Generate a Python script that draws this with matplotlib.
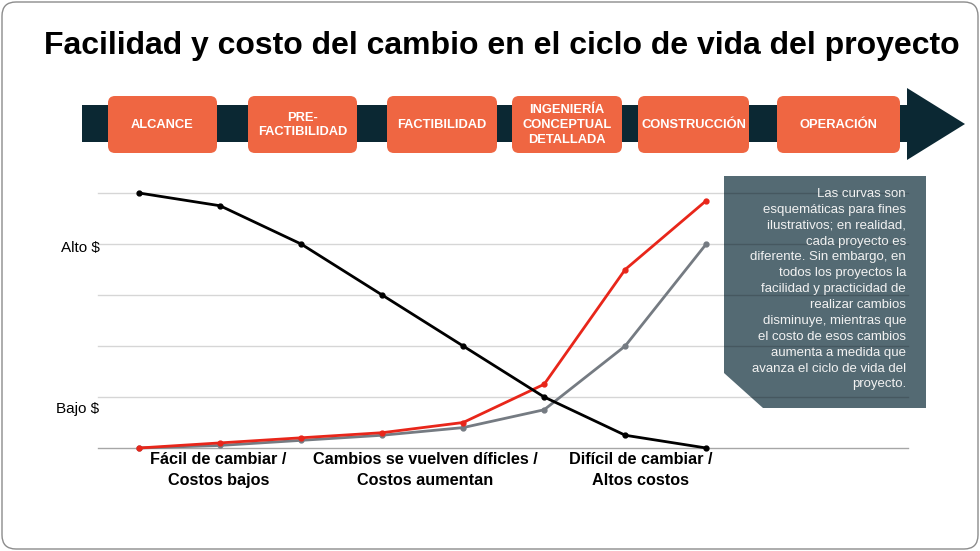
import matplotlib.pyplot as plt
from matplotlib.patches import FancyBboxPatch, Polygon, Rectangle

plt.rcParams['font.family'] = ['Liberation Sans', 'DejaVu Sans']

# Data
stages = ['ALCANCE', 'PRE-\nFACTIBILIDAD', 'FACTIBILIDAD',
          'INGENIERÍA\nCONCEPTUAL\nDETALLADA', 'CONSTRUCCIÓN', 'OPERACIÓN']
x = [0, 1, 2, 3, 4, 5, 6, 7]
facilidad = [5.0, 4.75, 4.0, 3.0, 2.0, 1.0, 0.25, 0.0]
costo_alto = [0.0, 0.1, 0.2, 0.3, 0.5, 1.25, 3.5, 4.85]
costo_bajo = [0.0, 0.05, 0.15, 0.25, 0.4, 0.75, 2.0, 4.0]
grid_levels = [0, 1, 2, 3, 4, 5]
y_label_pos = [3.95, 0.8]
y_label_txt = ['Alto $', 'Bajo $']
x_label_pos = [0.98, 3.53, 6.19]
x_label_txt = ['Fácil de cambiar /\nCostos bajos',
               'Cambios se vuelven díficles /\nCostos aumentan',
               'Difícil de cambiar /\nAltos costos']
nota = ('Las curvas son\nesquemáticas para fines\nilustrativos; en realidad,\n'
        'cada proyecto es\ndiferente. Sin embargo, en\ntodos los proyectos la\n'
        'facilidad y practicidad de\nrealizar cambios\ndisminuye, mientras que\n'
        'el costo de esos cambios\naumenta a medida que\navanza el ciclo de vida del\n'
        'proyecto.')

W, H = 980, 551
fig = plt.figure(figsize=(9.8, 5.51), dpi=100)

# background layer in pixel coordinates
bg = fig.add_axes([0, 0, 1, 1], zorder=0)
bg.set_xlim(0, W)
bg.set_ylim(H, 0)
bg.axis('off')

bg.add_patch(FancyBboxPatch((2, 2), W - 4, H - 4,
                            boxstyle='round,pad=0,rounding_size=14',
                            fc='white', ec='#8c8c8c', lw=1))
bg.text(502, 46, 'Facilidad y costo del cambio en el ciclo de vida del proyecto',
        ha='center', va='center', fontsize=23, fontweight='bold')

# arrow banner
bg.add_patch(Rectangle((82, 105), 828, 37, fc='#0b2833', ec='none'))
bg.add_patch(Polygon([(907, 88), (965, 124), (907, 160)], closed=True,
                     fc='#0b2833', ec='none'))
box_x = [(108, 217), (248, 357), (387, 497), (512, 622), (638, 749), (777, 900)]
for (x0, x1), name in zip(box_x, stages):
    bg.add_patch(FancyBboxPatch((x0, 96), x1 - x0, 57,
                                boxstyle='round,pad=0,rounding_size=7',
                                fc='#ef6642', ec='none'))
    bg.text((x0 + x1) / 2, 125, name, ha='center', va='center', color='white',
            fontsize=9.3, fontweight='bold', linespacing=1.3)

# callout box
bg.add_patch(Polygon([(724, 176), (926, 176), (926, 408), (763, 408), (724, 373)],
                     closed=True, fc='#546a73', ec='none'))
fig.text(906, 188, nota, transform=bg.transData, ha='right', va='top',
         color='#f2f2f2', fontsize=9.5, linespacing=1.43)

# chart
ax = fig.add_axes([98 / W, (H - 448) / H, (908 - 98) / W, (448 - 193) / H], zorder=1)
ax.patch.set_visible(False)
for s in ax.spines.values():
    s.set_visible(False)
for g in grid_levels:
    ax.axhline(g, color='black', alpha=0.16 if g else 0.35, lw=1, zorder=0, clip_on=False)

ax.plot(x, facilidad, color='black', lw=2, marker='o', ms=3.5, clip_on=False, zorder=3)
ax.plot(x, costo_bajo, color='#757b82', lw=2, marker='o', ms=3.5, clip_on=False, zorder=2)
ax.plot(x, costo_alto, color='#e8261a', lw=2, marker='o', ms=3.5, clip_on=False, zorder=2.5)

ax.set_xlim(-0.506, 9.49)
ax.set_ylim(0, 5)
ax.set_xticks(x_label_pos)
ax.set_xticklabels(x_label_txt, fontsize=11.7, fontweight='bold', linespacing=1.45)
ax.set_yticks(y_label_pos)
ax.set_yticklabels(y_label_txt, fontsize=11)
ax.tick_params(axis='y', length=0, pad=-1)
ax.tick_params(axis='x', length=0, pad=3)

fig.savefig('out.png', dpi=100)
